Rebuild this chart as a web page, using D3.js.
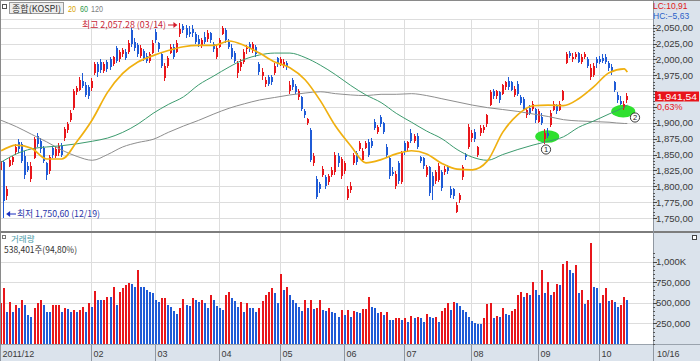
<!DOCTYPE html>
<html><head><meta charset="utf-8">
<script src="https://cdn.jsdelivr.net/npm/d3@7"></script>
<style>
html,body{margin:0;padding:0;background:#fff;}
svg{display:block;}
text{font-family:"Noto Sans CJK KR","Liberation Sans",sans-serif;}
text.num{font-family:"Liberation Sans","DejaVu Sans",sans-serif;}
</style></head><body>
<svg id="c" width="700" height="361"></svg>
<script>
// ---- data (KOSPI daily, 2011/12/16 .. 2012/10/16) ----
const opens = [1826,1838,1784,1832,1838,1854,1870,1866,1848,1832,
1812,1845,1880,1872,1860,1836,1824,1860,1848,1852,
1864,1876,1888,1905,1924,1948,1952,1966,1960,1956,
1955,1978,1992,1996,1982,1996,2000,1992,2018,2000,
2008,2012,2012,2046,2028,2022,2006,2014,2006,1998,
2010,2044,2026,2008,1970,1990,2010,2020,2012,2040,
2052,2050,2044,2048,2040,2032,2022,2036,2032,2042,
2024,2004,2020,2040,2046,2028,2018,2010,1978,1988,
1996,2016,2024,2014,2020,1992,1974,1962,1972,1972,
1978,2002,1992,1990,1994,1950,1968,1958,1940,1940,
1918,1900,1888,1836,1812,1804,1818,1814,1806,1818,
1822,1848,1816,1824,1782,1794,1836,1852,1858,1842,
1860,1870,1872,1902,1886,1910,1900,1862,1844,1822,
1800,1836,1806,1868,1860,1884,1872,1880,1846,1844,
1818,1830,1816,1808,1810,1822,1822,1830,1796,1796,
1760,1778,1814,1850,1862,1876,1886,1850,1884,1888,
1898,1928,1950,1942,1948,1946,1956,1966,1964,1944,
1962,1940,1938,1912,1924,1922,1922,1902,1910,1874,
1884,1896,1920,1926,1920,1936,1994,2010,2000,2004,
2010,1996,2004,2000,1972,1976,2000,2000,2002,2004,
1994,1988,1964,1944,1934,1924,1936];
const highs = [1843,1840,1800,1846,1848,1866,1874,1870,1855,1838,
1838,1878,1884,1876,1864,1838,1850,1864,1862,1868,
1868,1894,1902,1920,1954,1958,1972,1978,1964,1960,
1970,1996,1996,2000,1996,1999,2004,2006,2021,2015,
2018,2016,2030,2050,2034,2026,2022,2016,2010,2012,
2030,2048,2028,2010,1994,2006,2024,2024,2030,2057.28,
2056,2054,2052,2054,2044,2038,2034,2044,2046,2044,
2028,2022,2034,2052,2050,2032,2024,2014,1998,2000,
2016,2022,2028,2028,2022,1996,1986,1972,1976,1976,
1994,2004,2004,2000,1998,1966,1970,1962,1954,1942,
1922,1908,1892,1852,1816,1806,1832,1818,1820,1830,
1854,1852,1846,1840,1800,1806,1852,1856,1872,1860,
1872,1874,1876,1906,1896,1912,1902,1866,1846,1830,
1824,1840,1856,1872,1872,1890,1882,1884,1848,1846,
1834,1832,1822,1826,1836,1826,1832,1834,1800,1798,
1776,1790,1834,1852,1898,1888,1890,1864,1896,1896,
1914,1952,1954,1952,1950,1962,1966,1972,1966,1958,
1966,1944,1940,1924,1928,1934,1924,1922,1916,1890,
1892,1920,1934,1930,1934,1952,2012,2014,2010,2012,
2012,2008,2012,2004,1992,1994,2004,2006,2008,2008,
1998,1992,1966,1948,1942,1934,1947.17];
const lows = [1821,1750.6,1779,1830,1834,1850,1852,1836,1812,1822,
1806,1843,1862,1852,1836,1810,1820,1844,1844,1848,
1846,1872,1884,1902,1920,1944,1950,1955,1940,1938,
1950,1975,1972,1978,1978,1980,1984,1990,1994,1996,
2004,1999,2008,2020,2014,2004,2002,1998,1994,1994,
2008,2026,2012,1986,1966,1986,2008,2000,2010,2036,
2042,2034,2036,2036,2024,2020,2018,2024,2028,2026,
2012,2000,2018,2038,2026,2016,2000,1994,1970,1982,
1992,2008,2012,2010,2004,1976,1968,1956,1958,1960,
1975,1988,1990,1986,1984,1946,1952,1945,1936,1918,
1908,1896,1838,1832,1780,1790,1814,1796,1802,1814,
1818,1830,1812,1820,1778,1790,1834,1834,1856,1838,
1858,1846,1860,1888,1882,1894,1882,1846,1812,1816,
1796,1804,1804,1850,1856,1868,1868,1858,1836,1828,
1814,1784,1778,1804,1806,1792,1818,1820,1782,1780,
1758,1774,1810,1842,1858,1870,1870,1846,1880,1884,
1894,1926,1938,1938,1932,1944,1952,1952,1950,1940,
1942,1928,1918,1908,1912,1918,1900,1900,1896,1866,
1876,1894,1918,1914,1918,1934,1992,2002,1996,2000,
1994,1992,2000,1986,1968,1972,1986,1992,1994,1992,
1982,1976,1948,1932,1928,1920,1930.63];
const closes = [1840,1777,1796,1842,1846,1862,1858,1840,1818,1826,
1832,1875,1866,1858,1840,1818,1846,1850,1858,1864,
1850,1890,1898,1916,1950,1955,1968,1958,1944,1942,
1966,1992,1980,1984,1993,1985,1988,2004,1998,2012,
2015,2003,2026,2024,2018,2008,2018,2002,1998,2008,
2026,2030,2016,1990,1990,2002,2020,2004,2026,2048,
2046,2038,2040,2042,2028,2024,2030,2028,2042,2030,
2016,2018,2030,2049,2030,2020,2004,1998,1994,1996,
2012,2018,2016,2024,2008,1980,1980,1968,1962,1964,
1990,1992,2000,1996,1988,1960,1956,1948,1950,1922,
1912,1906,1842,1848,1783,1796,1828,1800,1816,1826,
1850,1836,1843,1836,1796,1800,1850,1838,1868,1856,
1868,1850,1864,1892,1894,1898,1886,1850,1816,1820,
1820,1808,1852,1854,1870,1872,1880,1862,1840,1832,
1830,1790,1800,1822,1832,1798,1828,1824,1786,1784,
1770,1786,1830,1846,1894,1884,1874,1862,1892,1894,
1912,1948,1942,1950,1936,1960,1964,1956,1952,1954,
1946,1932,1922,1920,1916,1930,1904,1918,1900,1884,
1880,1916,1930,1918,1930,1950,2008,2006,2004,2008,
1996,2004,2008,1990,1986,1990,1994,1996,1998,1996,
1986,1980,1952,1936,1930,1929.4,1941.54];
// volume in thousands of shares
const volumes = [493,675,392,513,392,473,432,533,473,352,
331,432,493,533,473,392,388,473,475,478,
392,432,430,392,412,392,412,452,392,493,
452,642,533,530,535,574,565,695,473,634,
683,715,735,730,695,897,695,690,650,634,
614,533,513,553,556,473,452,400,360,440,
545,473,465,553,533,513,533,493,432,600,
533,465,440,412,595,626,553,521,452,513,
392,493,440,432,384,432,521,595,634,683,
614,493,844,654,695,595,533,493,452,400,
533,432,533,420,440,533,412,400,440,384,
372,331,412,352,412,331,400,392,380,424,
426,565,452,440,372,392,352,392,291,288,
311,313,291,311,271,339,319,331,311,271,
360,331,320,331,271,400,440,493,412,505,
493,465,412,392,331,283,255,243,240,311,
481,493,311,339,331,432,360,352,400,424,
600,634,565,614,595,755,654,595,897,614,
755,595,634,723,715,970,1010,897,857,958,
622,654,481,533,1228,695,683,493,595,683,
521,533,513,452,473,567.93,538.401];
// moving averages at every 5th session
const maIndex = [0,5,10,15,20,25,30,35,40,45,50,55,60,65,70,75,80,85,90,95,100,105,110,115,120,125,130,135,140,145,150,155,160,165,170,175,180,185,190,195,200,205,206];
const ma20 = [1856,1865,1860,1843,1843,1871,1905,1948,1978,1996,2006,2014,2020,2022,2022,2029,2022,2010,1996,1987,1968,1935,1895,1864,1837,1842,1851,1856,1851,1836,1827,1826,1840,1885,1913,1927,1928,1927,1938,1957,1979,1985,1980];
const ma60 = [1838,1851,1859,1862,1864,1867,1871,1876,1885,1898,1915,1929,1941,1960,1974,1988,2000,2007,2010,2010,2003,1991,1976,1959,1944,1932,1915,1901,1887,1875,1858,1846,1841,1850,1858,1865,1871,1878,1893,1903,1914,1925,1928];
const ma120 = [1904,1894,1882,1870,1857,1847,1841,1850,1862,1869,1874,1885,1895,1904,1914,1923,1930,1936,1940,1944,1947,1949,1946,1944,1943,1945,1945,1946,1943,1938,1933,1928,1924,1921,1918,1914,1910,1905,1903,1902,1901,1899,1899];
const priceTicks = [1750,1775,1800,1825,1850,1875,1900,1925,1950,1975,2000,2025,2050];
const priceTickLabels = ["1,750,00","1,775,00","1,800,00","1,825,00","1,850,00","1,875,00","1,900,00","1,925,00","1,950,00","1,975,00","2,000,00","2,025,00","2,050,00"];
const volumeTicks = [250,500,750,1000];
const volumeTickLabels = ["250,000","500,000","750,000","1,000K"];
const monthIndex = [0,30,51,72,92,113,133,155,177,197];
const monthLabels = ["2011/12","02","03","04","05","06","07","08","09","10"];
const lastDateLabel = "10/16";
const markIndex = [179,204]; // circled notes 1 and 2

// ---- drawing ----
const RED = "#e8161b", BLUE = "#1f5bd6", PANEL = "#dbe3ec", GRID = "#dddddd";
const svg = d3.select("#c");
const PL = 1, PR = 653, PT = 19, VB = 344;

const x = d3.scaleLinear().domain([0, 206]).range([1.1, 627.3]);
const y = d3.scaleLinear().domain([1750, 2050]).range([218, 27.7]);
const yv = d3.scaleLinear().domain([0, 1000]).range([344, 261.5]);

svg.append("rect").attr("width", 700).attr("height", 361).attr("fill", "#fff");
svg.append("rect").attr("x", PR).attr("y", 0).attr("width", 700 - PR).attr("height", 361).attr("fill", PANEL);
svg.append("rect").attr("x", 0).attr("y", 345).attr("width", 700).attr("height", 16).attr("fill", PANEL);

// grid
const grid = svg.append("g").attr("stroke", GRID).attr("shape-rendering", "crispEdges");
grid.append("line").attr("x1", PL).attr("x2", PR).attr("y1", PT + 0.5).attr("y2", PT + 0.5);
grid.selectAll(".hp").data(priceTicks).join("line")
  .attr("x1", PL).attr("x2", PR)
  .attr("y1", d => Math.round(y(d)) + 0.5).attr("y2", d => Math.round(y(d)) + 0.5);
grid.selectAll(".hv").data(volumeTicks).join("line").attr("class", "hv")
  .attr("x1", PL).attr("x2", PR)
  .attr("y1", d => Math.round(yv(d)) + 0.5).attr("y2", d => Math.round(yv(d)) + 0.5);
grid.selectAll(".vm").data(monthIndex.slice(1)).join("line").attr("class", "vm")
  .attr("x1", d => Math.round(x(d)) - 0.5).attr("x2", d => Math.round(x(d)) - 0.5)
  .attr("y1", PT).attr("y2", VB);

// annotation ellipses
const ell = [{i: markIndex[0], v: 1880}, {i: markIndex[1], v: 1920}];
svg.selectAll(".el").data(ell).join("ellipse")
  .attr("cx", d => x(d.i) + 2).attr("cy", d => y(d.v) + 1)
  .attr("rx", 12).attr("ry", 6.3).attr("fill", "#2fe02f");

// candles
const idx = d3.range(closes.length);
const cg = svg.append("g").attr("shape-rendering", "crispEdges");
const col = i => closes[i] >= opens[i] ? RED : BLUE;
cg.selectAll(".wk").data(idx).join("rect")
  .attr("x", i => Math.round(x(i)) - 1).attr("width", 1)
  .attr("y", i => y(highs[i])).attr("height", i => Math.max(1, y(lows[i]) - y(highs[i])))
  .attr("fill", col);
cg.selectAll(".bd").data(idx).join("rect")
  .attr("x", i => Math.round(x(i)) - 1.5).attr("width", 2.2)
  .attr("y", i => y(Math.max(opens[i], closes[i])))
  .attr("height", i => Math.max(1, Math.abs(y(opens[i]) - y(closes[i]))))
  .attr("fill", col);

// moving averages
const line = d3.line().x(d => x(d[0])).y(d => y(d[1])).curve(d3.curveMonotoneX);
const maSeries = [[ma120, "#8e8e8e", 1], [ma60, "#3c9b6e", 1], [ma20, "#f0b010", 1.7]];
maSeries.forEach(([arr, c, w]) => {
  svg.append("path").datum(maIndex.map((k, j) => [k, arr[j]])).attr("d", line)
    .attr("fill", "none").attr("stroke", c).attr("stroke-width", w);
});

// volume bars (red when volume rose vs previous session)
svg.append("g").attr("shape-rendering", "crispEdges").selectAll("rect").data(idx).join("rect")
  .attr("x", i => Math.round(x(i)) - 1.5).attr("width", 2.2)
  .attr("y", i => yv(volumes[i])).attr("height", i => yv(0) - yv(volumes[i]))
  .attr("fill", i => (i === 0 || volumes[i] >= volumes[i - 1]) ? RED : BLUE);

// circled numbers
const marks = [{xx: 546, yy: 149.5, t: "1"}, {xx: 635, yy: 117.5, t: "2"}];
const mg = svg.selectAll(".mk").data(marks).join("g");
mg.append("circle").attr("cx", d => d.xx).attr("cy", d => d.yy).attr("r", 4.6)
  .attr("fill", "#fff").attr("stroke", "#222").attr("stroke-width", 0.9);
mg.append("text").attr("class", "num").attr("x", d => d.xx).attr("y", d => d.yy + 2.8).attr("text-anchor", "middle")
  .attr("font-size", 7.5).attr("fill", "#222").text(d => d.t);

// frames / separators
const fr = svg.append("g").attr("shape-rendering", "crispEdges");
fr.append("line").attr("x1", 0).attr("x2", 700).attr("y1", 232).attr("y2", 232).attr("stroke", "#7d7d7d").attr("stroke-width", 2);
fr.append("line").attr("x1", 0).attr("x2", 700).attr("y1", 344.5).attr("y2", 344.5).attr("stroke", "#9aa3ad");
fr.append("line").attr("x1", PR + 0.5).attr("x2", PR + 0.5).attr("y1", 0).attr("y2", 361).attr("stroke", "#8f97a1");
fr.append("line").attr("x1", 0.5).attr("x2", 0.5).attr("y1", 0).attr("y2", 361).attr("stroke", "#8a8a8a");
fr.append("line").attr("x1", 0).attr("x2", 700).attr("y1", 0.5).attr("y2", 0.5).attr("stroke", "#8a8a8a");

// current price tag position
const lastC = closes[closes.length - 1], prevC = closes[closes.length - 2];
const ly = y(lastC);

// right price axis
const ax = svg.append("g");
const minor = d3.range(1750, 2060, 5);
ax.selectAll(".mt").data(minor).join("line").attr("shape-rendering", "crispEdges")
  .attr("x1", PR).attr("x2", PR + 2).attr("y1", d => Math.round(y(d)) + 0.5).attr("y2", d => Math.round(y(d)) + 0.5)
  .attr("stroke", "#555");
ax.selectAll(".pt").data(priceTicks).join("line").attr("shape-rendering", "crispEdges")
  .attr("x1", PR).attr("x2", PR + 4).attr("y1", d => Math.round(y(d)) + 0.5).attr("y2", d => Math.round(y(d)) + 0.5)
  .attr("stroke", "#444");
// labels hidden behind the current-price tag are not drawn
const shownTicks = priceTicks.map((d, j) => [d, priceTickLabels[j]]).filter(([d]) => Math.abs(y(d) - (ly + 4)) > 12);
ax.selectAll(".pl").data(shownTicks).join("text").attr("class", "num")
  .attr("x", 656).attr("y", d => y(d[0]) + 3.5).attr("font-size", 9.5).attr("fill", "#3a3a3a")
  .text(d => d[1]);
// volume axis
const vminor = d3.range(0, 1150, 50);
ax.selectAll(".vmt").data(vminor.filter(d => yv(d) > 236)).join("line").attr("shape-rendering", "crispEdges")
  .attr("x1", PR).attr("x2", PR + 2).attr("y1", d => Math.round(yv(d)) + 0.5).attr("y2", d => Math.round(yv(d)) + 0.5)
  .attr("stroke", "#555");
ax.selectAll(".vt").data(volumeTicks).join("line").attr("shape-rendering", "crispEdges")
  .attr("x1", PR).attr("x2", PR + 4).attr("y1", d => Math.round(yv(d)) + 0.5).attr("y2", d => Math.round(yv(d)) + 0.5)
  .attr("stroke", "#444");
ax.selectAll(".vl").data(volumeTicks).join("text").attr("class", "num")
  .attr("x", 656).attr("y", d => yv(d) + 3.5).attr("font-size", 9.5).attr("fill", "#3a3a3a")
  .text((d, j) => volumeTickLabels[j]);

// current price tag
svg.append("rect").attr("x", 655).attr("y", ly - 5).attr("width", 44).attr("height", 10).attr("fill", "#e8141a");
svg.append("text").attr("class", "num").attr("x", 657).attr("y", ly + 3.3).attr("font-size", 9).attr("fill", "#fff")
  .attr("textLength", 40).attr("lengthAdjust", "spacingAndGlyphs")
  .text(d3.format(",.2f")(lastC).replace(".", ","));
svg.append("text").attr("class", "num").attr("x", 657).attr("y", ly + 14).attr("font-size", 9).attr("fill", "#e8141a")
  .text(d3.format(".2f")((lastC / prevC - 1) * 100).replace(".", ",") + "%");
// LC / HC
svg.append("text").attr("class", "num").attr("x", 653).attr("y", 8.5).attr("font-size", 8.5).attr("fill", "#e01818")
  .text("LC:" + d3.format(".2f")(lastC - lows[lows.length - 1]).replace(".", ","));
svg.append("text").attr("class", "num").attr("x", 653).attr("y", 18.5).attr("font-size", 8.5).attr("fill", "#2a5fc8")
  .text("HC:" + d3.format(".2f")(lastC - highs[highs.length - 1]).replace(".", ","));
svg.append("rect").attr("x", 692.5).attr("y", 235.5).attr("width", 4).attr("height", 4)
  .attr("fill", "#fff").attr("stroke", "#444");

// bottom date axis
const bx = svg.append("g");
bx.selectAll("line").data(monthIndex).join("line").attr("shape-rendering", "crispEdges")
  .attr("x1", d => Math.round(x(d)) - 0.5).attr("x2", d => Math.round(x(d)) - 0.5)
  .attr("y1", 345).attr("y2", 361).attr("stroke", "#8f97a1");
bx.selectAll("text").data(monthIndex).join("text").attr("class", "num")
  .attr("x", d => Math.round(x(d)) + 1.5).attr("y", 357).attr("font-size", 9).attr("fill", "#3a3a3a")
  .text((d, j) => monthLabels[j]);
svg.append("text").attr("class", "num").attr("x", 657).attr("y", 357).attr("font-size", 9).attr("fill", "#3a3a3a").text(lastDateLabel);

// headers
svg.append("rect").attr("x", 2.5).attr("y", 4.5).attr("width", 4).attr("height", 4).attr("fill", "#fff").attr("stroke", "#555");
svg.append("rect").attr("x", 9.5).attr("y", 2.5).attr("width", 54).attr("height", 11).attr("fill", "#eeeeee").attr("stroke", "#9a9a9a");
svg.append("text").attr("x", 12).attr("y", 11.5).attr("font-size", 9).attr("fill", "#333")
  .attr("textLength", 49).attr("lengthAdjust", "spacingAndGlyphs").text("종합(KOSPI)");
svg.append("text").attr("class", "num").attr("x", 68).attr("y", 11.5).attr("font-size", 8.5).attr("fill", "#d9a400")
  .attr("textLength", 8).attr("lengthAdjust", "spacingAndGlyphs").text("20");
svg.append("text").attr("class", "num").attr("x", 80).attr("y", 11.5).attr("font-size", 8.5).attr("fill", "#2f9a4a")
  .attr("textLength", 8).attr("lengthAdjust", "spacingAndGlyphs").text("60");
svg.append("text").attr("class", "num").attr("x", 91).attr("y", 11.5).attr("font-size", 8.5).attr("fill", "#808080")
  .attr("textLength", 12).attr("lengthAdjust", "spacingAndGlyphs").text("120");

// high / low labels
const hiI = d3.maxIndex(highs), loI = d3.minIndex(lows);
svg.append("text").attr("x", 82).attr("y", 28).attr("font-size", 9).attr("fill", "#c8283a")
  .attr("textLength", 84).attr("lengthAdjust", "spacingAndGlyphs")
  .text("최고 " + d3.format(",.2f")(highs[hiI]) + " (03/14)");
svg.append("line").attr("x1", 168).attr("x2", x(hiI) - 5).attr("y1", 25).attr("y2", 25).attr("stroke", "#d21c2c").attr("stroke-width", 1);
svg.append("path").attr("d", `M${x(hiI) - 3},25 L${x(hiI) - 7},22 L${x(hiI) - 7},28 Z`).attr("fill", "#d21c2c");
svg.append("path").attr("d", `M${x(loI) + 2},214 L${x(loI) + 6},211 L${x(loI) + 6},217 Z`).attr("fill", "#1a2fc0");
svg.append("line").attr("x1", x(loI) + 5).attr("x2", 16).attr("y1", 214).attr("y2", 214).attr("stroke", "#1a2fc0");
svg.append("text").attr("x", 17).attr("y", 217).attr("font-size", 9).attr("fill", "#2a35a8")
  .attr("textLength", 83).attr("lengthAdjust", "spacingAndGlyphs")
  .text("최저 " + d3.format(",.2f")(lows[loI]).replace(/\.(\d\d)$/, ",$1") + " (12/19)");

// volume header
svg.append("rect").attr("x", 2.5).attr("y", 235.5).attr("width", 3).attr("height", 3).attr("fill", "#fff").attr("stroke", "#777");
svg.append("text").attr("x", 11).attr("y", 242).attr("font-size", 8.5).attr("fill", "#4a9aa6").text("거래량");
svg.append("text").attr("x", 4).attr("y", 253).attr("font-size", 9).attr("fill", "#333")
  .attr("textLength", 73).attr("lengthAdjust", "spacingAndGlyphs")
  .text("538,401주(" + d3.format(".2f")(volumes[206] / volumes[205] * 100).replace(".", ",") + "%)");
</script>
</body></html>
